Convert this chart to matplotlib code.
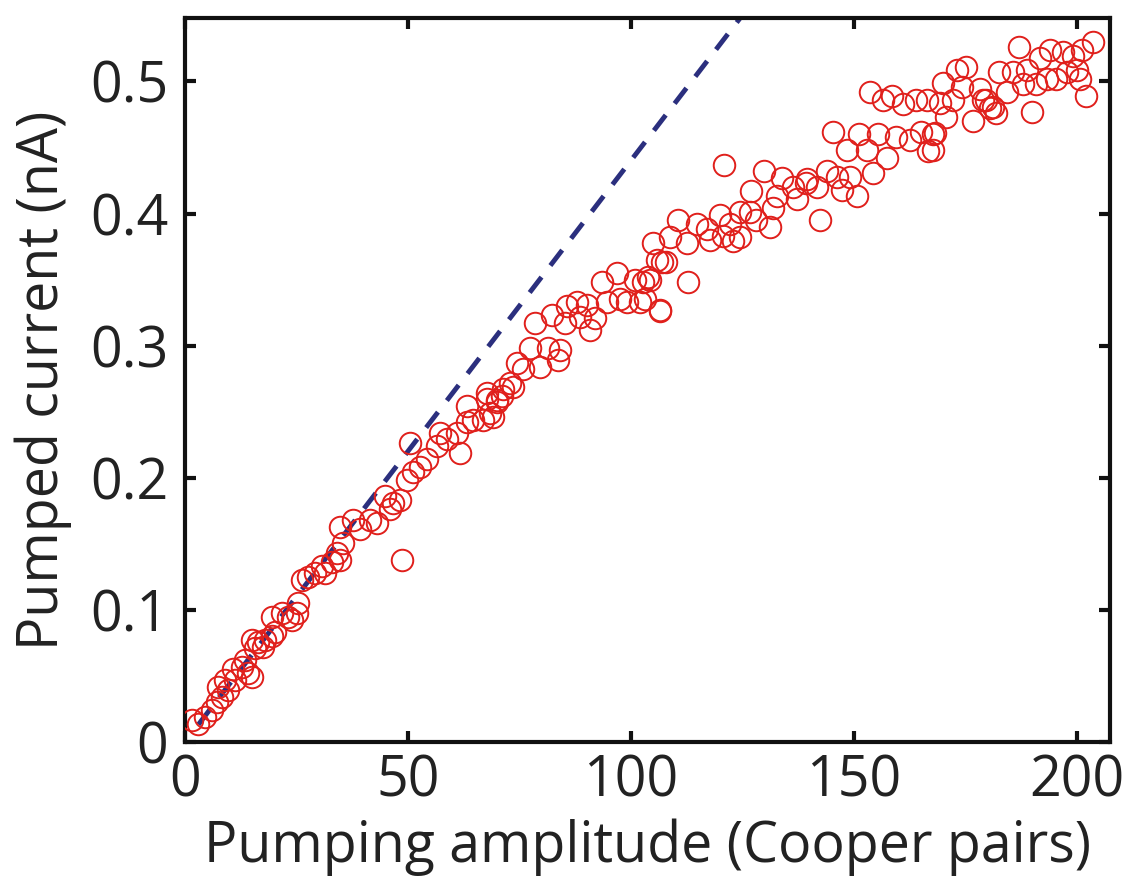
import matplotlib
matplotlib.use("Agg")
import matplotlib.pyplot as plt

# measured points (pumping amplitude, pumped current in nA)
amp = [1.6, 2.9, 4.5, 6.1, 7.2, 8.3, 7.4, 9.6, 9.0, 11.2, 10.8, 12.8, 14.1, 15.0, 13.5,
       15.0, 16.4, 17.9, 15.7, 17.5, 19.5, 20.2,
       19.5, 21.7, 23.1, 25.1, 24.0, 25.3,
       26.2, 27.6, 29.1, 31.4, 30.7, 33.0, 34.8,
       34.0, 35.5, 34.8, 37.7, 39.2, 41.5, 43.0, 44.8, 46.6, 48.2, 46.0, 48.7,
       49.8, 51.2, 52.7, 54.3, 56.5, 50.5, 58.7, 57.2, 61.7, 61.0, 63.2, 64.6, 66.8, 68.4,
       63.2, 67.7, 70.0, 71.3, 73.5, 69.0,
       78.5, 82.3, 85.6, 87.9, 90.1, 85.2, 88.6, 90.8, 91.9, 93.5, 96.9, 94.6, 97.5, 99.1,
       100.9, 102.7, 102.0, 104.3, 106.5, 107.0, 77.4, 81.4, 84.1, 74.4, 75.8, 79.6, 83.6,
       72.9, 71.1, 67.7, 69.9,
       121.0, 130.0, 127.0, 134.0, 136.3, 139.4, 141.7, 144.0, 146.2, 142.4, 137.2, 132.7,
       131.8, 110.5, 114.8, 117.0, 120.0, 122.2, 124.4, 126.7, 128.2, 131.2, 120.6, 124.4,
       122.9, 117.7, 112.6, 108.7, 105.0, 105.8, 108.0, 103.8, 112.8, 103.1, 106.5,
       153.6, 156.5, 158.7, 161.0, 164.1, 166.4, 169.3, 170.0, 172.2, 173.1, 175.3, 174.4,
       178.3, 179.8, 181.2, 170.8, 176.7, 145.3, 148.4, 151.3, 152.9, 155.4, 159.6, 162.6,
       165.2, 167.7, 166.6, 157.4, 154.3, 139.5, 149.1, 147.5, 150.7,
       187.2, 203.6, 201.3, 199.1, 196.9, 194.0, 191.7, 188.8, 185.7, 182.7, 184.3, 187.9,
       191.0, 193.3, 195.5, 197.8, 200.0, 200.7, 202.2, 190.1, 168.2, 167.7, 180.5, 182.0,
       179.0]
current = [0.017, 0.014, 0.019, 0.024, 0.030, 0.034, 0.042, 0.039, 0.047, 0.047, 0.055, 0.057, 0.052, 0.049, 0.062,
           0.077, 0.076, 0.077, 0.071, 0.072, 0.080, 0.083,
           0.095, 0.098, 0.095, 0.098, 0.092, 0.105,
           0.123, 0.125, 0.128, 0.128, 0.133, 0.136, 0.138,
           0.143, 0.151, 0.163, 0.168, 0.161, 0.168, 0.166, 0.186, 0.181, 0.183, 0.176, 0.138,
           0.198, 0.204, 0.208, 0.214, 0.224, 0.226, 0.229, 0.234, 0.219, 0.234, 0.242, 0.244, 0.244, 0.249,
           0.254, 0.264, 0.259, 0.267, 0.269, 0.246,
           0.317, 0.323, 0.330, 0.333, 0.331, 0.317, 0.322, 0.312, 0.321, 0.348, 0.355, 0.333, 0.335, 0.333,
           0.350, 0.348, 0.333, 0.350, 0.327, 0.363, 0.298, 0.298, 0.297, 0.287, 0.282, 0.284, 0.289,
           0.272, 0.262, 0.260, 0.257,
           0.437, 0.432, 0.417, 0.427, 0.420, 0.423, 0.420, 0.432, 0.428, 0.395, 0.411, 0.413,
           0.404, 0.395, 0.392, 0.388, 0.399, 0.392, 0.401, 0.401, 0.395, 0.390, 0.383, 0.382,
           0.379, 0.380, 0.378, 0.382, 0.378, 0.365, 0.363, 0.352, 0.348, 0.335, 0.326,
           0.492, 0.486, 0.489, 0.483, 0.486, 0.486, 0.484, 0.499, 0.486, 0.509, 0.511, 0.496,
           0.494, 0.486, 0.481, 0.473, 0.470, 0.462, 0.448, 0.460, 0.448, 0.460, 0.458, 0.456,
           0.462, 0.460, 0.447, 0.442, 0.431, 0.426, 0.428, 0.418, 0.413,
           0.526, 0.530, 0.524, 0.519, 0.522, 0.524, 0.518, 0.509, 0.507, 0.507, 0.492, 0.498,
           0.498, 0.502, 0.502, 0.507, 0.509, 0.502, 0.489, 0.477, 0.461, 0.448, 0.480, 0.476,
           0.486]

# linear (ideal) pumping line
line_amp = [3, 130]
line_current = [0.0132, 0.572]

plt.rcParams['font.family'] = ['Open Sans', 'DejaVu Sans']

fig = plt.figure(figsize=(11.24, 8.82), dpi=100)
ax = fig.add_axes([0.1646, 0.1587, 0.9875 - 0.1646, 0.9796 - 0.1587])

ax.plot(line_amp, line_current, linestyle=(0, (4, 3)), color='#2b2f7e', lw=3.5, zorder=2)
ax.plot(amp, current, 'o', mfc='none', mec='#e0201c', ms=15.5, mew=1.4, zorder=3)

ax.set_xlim(0, 207.5)
ax.set_ylim(0, 0.548)
ax.set_xticks([0, 50, 100, 150, 200])
ax.set_yticks([0, 0.1, 0.2, 0.3, 0.4, 0.5])
ax.set_yticklabels(['0', '0.1', '0.2', '0.3', '0.4', '0.5'])

ax.tick_params(direction='in', length=8, width=3, top=True, right=True,
               labelsize=40, color='#111111', labelcolor='#222222')
ax.tick_params(axis='y', pad=12)
ax.tick_params(axis='x', pad=8)
for s in ax.spines.values():
    s.set_linewidth(3)
    s.set_color('#111111')

ax.set_xlabel('Pumping amplitude (Cooper pairs)', fontsize=40, labelpad=6, color='#222222')
ax.set_ylabel('Pumped current (nA)', fontsize=40, labelpad=13, color='#222222')

fig.savefig('out.png', dpi=100)
